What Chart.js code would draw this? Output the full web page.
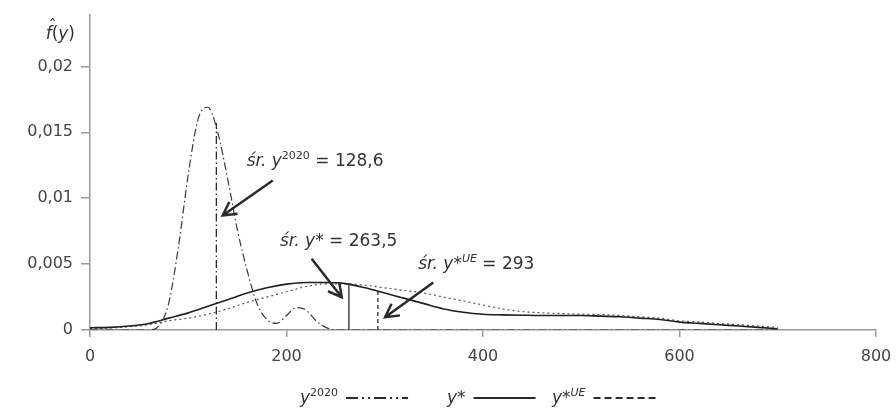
<!DOCTYPE html>
<html>
<head>
<meta charset="utf-8">
<style>
  html, body { margin: 0; padding: 0; background: #fff; }
  #wrap { width: 896px; height: 410px; }
</style>
<script src="https://cdn.jsdelivr.net/npm/chart.js@4/dist/chart.umd.min.js"></script>
</head>
<body>
<div id="wrap"><canvas id="chart" width="896" height="410"></canvas></div>
<script>
// tick values
const xTicks = [0, 200, 400, 600, 800];
const yTicks = [0, 0.005, 0.01, 0.015, 0.02];

// y2020 density (peaked)
const x2020 = [0, 50, 60, 70, 80, 90, 100, 110, 120, 130, 140, 150, 160, 170, 180, 190, 200, 210, 220, 230, 240, 250, 700];
const y2020 = [0, 0, 0, 0.0003, 0.002, 0.0063, 0.0118, 0.016, 0.0169, 0.015, 0.0115, 0.0076, 0.0045, 0.002, 0.0008, 0.0005, 0.0011, 0.0017, 0.0015, 0.0007, 0.0002, 0, 0];

// y* density (solid)
const xStar = [0, 20, 40, 60, 80, 100, 120, 140, 160, 180, 200, 220, 240, 260, 280, 300, 320, 340, 360, 380, 400, 420, 440, 460, 480, 500, 520, 540, 560, 580, 600, 620, 640, 660, 680, 700];
const yStar = [0.00017, 0.0002, 0.0003, 0.0005, 0.0009, 0.0013, 0.0018, 0.0023, 0.0028, 0.0032, 0.00348, 0.0036, 0.0036, 0.00352, 0.0032, 0.0028, 0.0024, 0.002, 0.0016, 0.00135, 0.0012, 0.00115, 0.00112, 0.0011, 0.0011, 0.0011, 0.00105, 0.001, 0.0009, 0.0008, 0.0006, 0.0005, 0.0004, 0.0003, 0.0002, 0.0001];

// y*UE density (dotted)
const xUE = [0, 20, 40, 60, 80, 100, 120, 140, 160, 180, 200, 220, 240, 260, 280, 300, 320, 340, 360, 380, 400, 420, 440, 460, 480, 500, 520, 540, 560, 580, 600, 620, 640, 660, 680, 700];
const yUE = [0.0001, 0.00015, 0.00025, 0.0004, 0.0007, 0.0009, 0.0012, 0.0016, 0.0021, 0.0025, 0.0029, 0.0033, 0.0035, 0.0035, 0.0034, 0.0032, 0.003, 0.0028, 0.0025, 0.0022, 0.0019, 0.0016, 0.0014, 0.0013, 0.00125, 0.0012, 0.00118, 0.0011, 0.001, 0.0009, 0.0007, 0.0006, 0.0005, 0.0004, 0.0003, 0.0002];

// means and curve heights at the mean
const meanX = [128.6, 263.5, 293];
const meanTop = [0.0157, 0.0035, 0.003];

// annotations: text anchor, arrow tail, arrow head (data units)
const noteText = [
  [["śr. ", "i"], ["y", "i"], ["2020", "s"], [" = 128,6", ""]],
  [["śr. ", "i"], ["y*", "i"], [" = 263,5", ""]],
  [["śr. ", "i"], ["y*", "i"], ["UE", "si"], [" = 293", ""]],
];
const noteAt = [[159.5, 0.01248], [193.4, 0.00641], [334.1, 0.00464]];
const arrowFrom = [[186, 0.01134], [225.6, 0.0054], [349.4, 0.0036]];
const arrowTo = [[135, 0.00869], [256.2, 0.00249], [300.3, 0.00097]];

// legend
const legendText = [
  [["y", "i"], ["2020", "s"]],
  [["y*", "i"]],
  [["y*", "i"], ["UE", "si"]],
];
const legendDash = [[12, 4, 2, 4, 2, 4], [], [7, 4]];

const FONT = "'DejaVu Sans', sans-serif";
const INK = "#333";

const pts = (xs, ys) => xs.map((x, i) => ({ x, y: ys[i] }));

const curve = (label, xs, ys, color, width, dash) => ({
  label,
  data: pts(xs, ys),
  borderColor: color,
  borderWidth: width,
  borderDash: dash,
  pointRadius: 0,
  fill: false,
  cubicInterpolationMode: "monotone",
});

const meanLine = (i, color, width, dash) => ({
  label: "mean" + i,
  data: [{ x: meanX[i], y: 0 }, { x: meanX[i], y: meanTop[i] }],
  borderColor: color,
  borderWidth: width,
  borderDash: dash,
  pointRadius: 0,
  fill: false,
});

const drawRich = (ctx, x, y, parts, size) => {
  let cx = x;
  parts.forEach(([t, kind]) => {
    const sup = kind.includes("s");
    const it = kind.includes("i");
    const fs = sup ? Math.round(size * 0.64) : size;
    ctx.font = `${it ? "italic " : ""}${fs}px ${FONT}`;
    ctx.fillText(t, cx, sup ? y - size * 0.4 : y);
    cx += ctx.measureText(t).width;
  });
  return cx - x;
};

const richWidth = (ctx, parts, size) => {
  let w = 0;
  parts.forEach(([t, kind]) => {
    const sup = kind.includes("s");
    const it = kind.includes("i");
    const fs = sup ? Math.round(size * 0.64) : size;
    ctx.font = `${it ? "italic " : ""}${fs}px ${FONT}`;
    w += ctx.measureText(t).width;
  });
  return w;
};

const extras = {
  id: "extras",
  afterDatasetsDraw(chart) {
    const { ctx } = chart;
    const xs = chart.scales.x;
    const ys = chart.scales.y;
    ctx.save();
    ctx.fillStyle = INK;
    ctx.strokeStyle = "#2b2b2b";
    ctx.textBaseline = "alphabetic";
    noteText.forEach((parts, i) => {
      drawRich(ctx, xs.getPixelForValue(noteAt[i][0]), ys.getPixelForValue(noteAt[i][1]), parts, 17);
      const x1 = xs.getPixelForValue(arrowFrom[i][0]);
      const y1 = ys.getPixelForValue(arrowFrom[i][1]);
      const x2 = xs.getPixelForValue(arrowTo[i][0]);
      const y2 = ys.getPixelForValue(arrowTo[i][1]);
      const a = Math.atan2(y2 - y1, x2 - x1);
      const len = 15;
      ctx.lineWidth = 2.5;
      ctx.lineCap = "butt";
      ctx.setLineDash([]);
      ctx.beginPath();
      ctx.moveTo(x1, y1);
      ctx.lineTo(x2, y2);
      ctx.moveTo(x2 - len * Math.cos(a - 0.5), y2 - len * Math.sin(a - 0.5));
      ctx.lineTo(x2, y2);
      ctx.lineTo(x2 - len * Math.cos(a + 0.5), y2 - len * Math.sin(a + 0.5));
      ctx.stroke();
    });
    ctx.restore();
  },
  afterDraw(chart) {
    const { ctx, chartArea } = chart;
    ctx.save();
    ctx.fillStyle = INK;
    ctx.textBaseline = "alphabetic";
    // y axis title f^(y)
    const yl = [["f", "i"], ["(", ""], ["y", "i"], [")", ""]];
    const right = chartArea.left - 15;
    const base = 39;
    const w = richWidth(ctx, yl, 17);
    const left = right - w;
    drawRich(ctx, left, base, yl, 17);
    ctx.font = `16px ${FONT}`;
    ctx.textAlign = "center";
    ctx.fillText("ˆ", left + 7, base - 8);
    ctx.textAlign = "left";

    // legend
    const legendLeft = [300, 447, 552];
    const ly = 398;
    legendText.forEach((parts, i) => {
      ctx.fillStyle = INK;
      const tw = drawRich(ctx, legendLeft[i], ly + 5, parts, 17);
      const sx = legendLeft[i] + tw + 8;
      ctx.strokeStyle = "#2b2b2b";
      ctx.lineWidth = 2.2;
      ctx.setLineDash(legendDash[i]);
      ctx.beginPath();
      ctx.moveTo(sx, ly);
      ctx.lineTo(sx + 62, ly);
      ctx.stroke();
    });
    ctx.restore();
  },
};

new Chart(document.getElementById("chart"), {
  type: "line",
  data: {
    datasets: [
      curve("y2020", x2020, y2020, "#3a3a3a", 1.2, [8, 3, 1.5, 3]),
      curve("y*", xStar, yStar, "#1f1f1f", 1.6, []),
      curve("y*UE", xUE, yUE, "#555", 1.2, [2, 3]),
      meanLine(0, "#2b2b2b", 1.3, [8, 3, 1.5, 3]),
      meanLine(1, "#2b2b2b", 1.3, []),
      meanLine(2, "#2b2b2b", 1.3, [4, 3]),
    ],
  },
  options: {
    responsive: false,
    devicePixelRatio: 1,
    animation: false,
    layout: { padding: { top: 15, right: 20, left: 0, bottom: 0 } },
    plugins: { legend: { display: false }, tooltip: { enabled: false } },
    scales: {
      x: {
        type: "linear",
        min: 0,
        max: 800,
        afterBuildTicks: (s) => { s.ticks = xTicks.map((v) => ({ value: v })); },
        afterFit: (s) => { s.height = 80; s.paddingLeft = 0; s.paddingRight = 0; },
        grid: { display: true, drawOnChartArea: false, drawTicks: true, tickLength: 7, color: "#9a9a9a", lineWidth: 1.5 },
        border: { display: true, color: "#9a9a9a", width: 1.5 },
        ticks: { color: "#444", padding: 10, font: { family: FONT, size: 16 }, maxRotation: 0 },
      },
      y: {
        type: "linear",
        min: 0,
        max: 0.0239,
        afterBuildTicks: (s) => { s.ticks = yTicks.map((v) => ({ value: v })); },
        afterFit: (s) => { s.width = 90; s.paddingTop = 0; s.paddingBottom = 0; },
        grid: { display: true, drawOnChartArea: false, drawTicks: true, tickLength: 9, color: "#9a9a9a", lineWidth: 1.5 },
        border: { display: true, color: "#9a9a9a", width: 1.5 },
        ticks: {
          color: "#444",
          padding: 8,
          font: { family: FONT, size: 16 },
          callback: (v) => String(v).replace(".", ","),
        },
      },
    },
  },
  plugins: [extras],
});
</script>
</body>
</html>
